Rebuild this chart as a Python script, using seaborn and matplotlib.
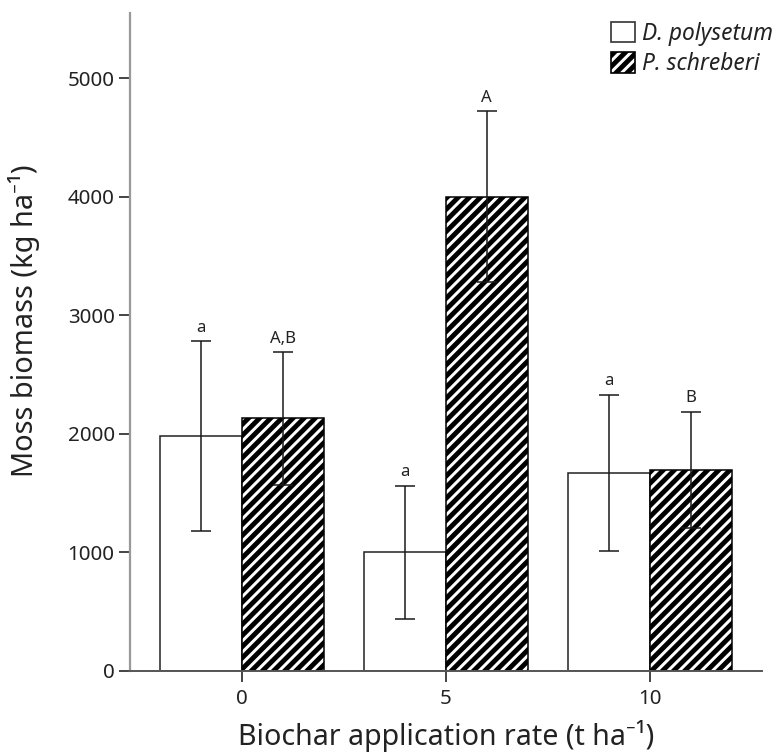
import matplotlib
matplotlib.use("Agg")
import matplotlib.pyplot as plt
from matplotlib.patches import Patch
import seaborn as sns
import pandas as pd

# ---- data ----
rates = ["0", "5", "10"]
species = ["D. polysetum", "P. schreberi"]
d_poly_mean = [1980, 1000, 1670]
d_poly_err = [800, 560, 660]
p_schr_mean = [2130, 4000, 1695]
p_schr_err = [560, 720, 490]
d_poly_letters = ["a", "a", "a"]
p_schr_letters = ["A,B", "A", "B"]
y_ticks = [0, 1000, 2000, 3000, 4000, 5000]

sns.set_theme(style="ticks")
plt.rcParams['font.family'] = ['Noto Sans', 'DejaVu Sans']
plt.rcParams['hatch.linewidth'] = 1.75

df = pd.DataFrame({
    "rate": rates * 2,
    "species": [species[0]] * 3 + [species[1]] * 3,
    "mean": d_poly_mean + p_schr_mean,
})

W, H = 776, 754
fig = plt.figure(figsize=(W / 200, H / 200), dpi=200)
ax = fig.add_axes([130 / W, 1 - 671 / H, (762 - 130) / W, (671 - 13) / H])

sns.barplot(data=df, x="rate", y="mean", hue="species", order=rates,
            hue_order=species, palette=["white", "white"], errorbar=None,
            width=0.8, edgecolor="#222222", linewidth=0.55, ax=ax, legend=False)

bar_conts = list(ax.containers)
errs = [d_poly_err, p_schr_err]
letters = [d_poly_letters, p_schr_letters]
for ci, cont in enumerate(bar_conts):
    for bi, bar in enumerate(cont.patches):
        if ci == 1:
            bar.set_hatch('//////')
            bar.set_edgecolor('black')
        x = bar.get_x() + bar.get_width() / 2
        y = bar.get_height()
        e = errs[ci][bi]
        ax.errorbar(x, y, yerr=e, fmt='none', ecolor='#1a1a1a', elinewidth=0.55,
                    capsize=3.6, capthick=0.55, zorder=5)
        ax.annotate(letters[ci][bi], (x, y + e), xytext=(0, 2.0),
                    textcoords='offset points', ha='center', va='bottom',
                    fontsize=6.0, color='#222222')

ax.set_ylim(0, 5550)
ax.set_xlim(-0.549, 2.549)
ax.set_yticks(y_ticks)
ax.tick_params(axis='both', length=4, width=0.7, color='#444444',
               labelsize=7.4, labelcolor='#222222', pad=1.5)
ax.tick_params(axis='x', pad=2.5)
for s in ['top', 'right']:
    ax.spines[s].set_visible(False)
ax.spines['left'].set_color('#999999')
ax.spines['left'].set_linewidth(0.8)
ax.spines['bottom'].set_color('#555555')
ax.spines['bottom'].set_linewidth(0.7)

ax.set_xlabel("Biochar application rate (t ha\u207b\u00b9)", fontsize=10.3,
              color='#222222', labelpad=4)
ax.set_ylabel("Moss biomass (kg ha\u207b\u00b9)", fontsize=10.4,
              color='#222222')
ax.yaxis.set_label_coords(-0.142, 0.532)

handles = [Patch(facecolor='white', edgecolor='#333333', linewidth=0.6),
           Patch(facecolor='white', edgecolor='black', hatch='//////', linewidth=0.6)]
leg = fig.legend(handles, species, loc='upper right', bbox_to_anchor=(1.009, 0.985),
                 frameon=False, handlelength=1.05, handleheight=1.0,
                 handletextpad=0.28, labelspacing=0.3, borderaxespad=0.05,
                 prop={'style': 'italic', 'size': 8.2})
for t in leg.get_texts():
    t.set_color('#222222')

fig.savefig("out.png", dpi=200)
